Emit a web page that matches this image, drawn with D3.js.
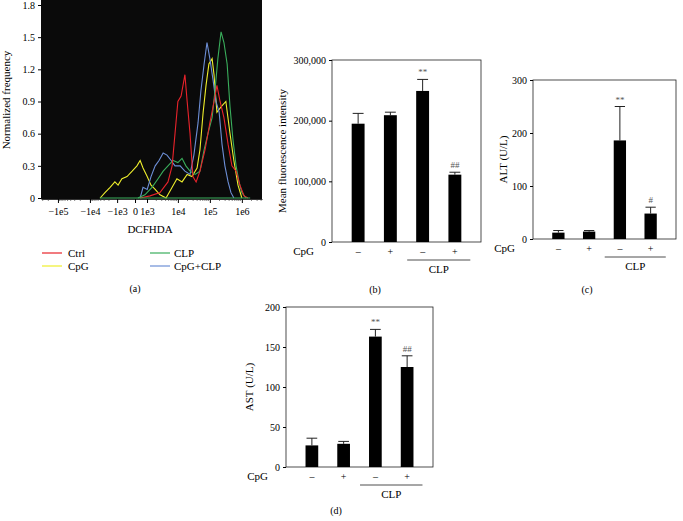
<!DOCTYPE html>
<html>
<head>
<meta charset="utf-8">
<script src="https://cdn.jsdelivr.net/npm/d3@7"></script>
<style>
  body { margin: 0; background: #fff; }
  svg { font-family: "Liberation Serif", "DejaVu Serif", serif; }
</style>
</head>
<body>
<svg id="fig" width="683" height="521"></svg>
<script>
// panel (a) histogram curves: x = position along the logicle axis (decade units), y = normalized frequency
const ctrlX = [0.16,0.47,0.78,1.03,1.16,1.25,1.34,1.44,1.5,1.56,1.63,1.72,1.81,1.91,2.03,2.19,2.34,2.47,2.56,2.66,2.78,2.91,3.03,3.16,3.28,3.41,3.53];
const ctrlY = [0,0.02,0.05,0.15,0.3,0.6,0.9,0.95,1.05,1.15,0.9,0.6,0.2,0.15,0.25,0.45,0.7,0.9,1.05,0.9,0.75,0.5,0.3,0.25,0.12,0.02,0];
const cpgX = [-1.09,-0.94,-0.78,-0.63,-0.53,-0.41,-0.25,-0.09,0.06,0.16,0.25,0.38,0.5,0.63,0.78,0.97,1.16,1.31,1.47,1.63,1.78,1.94,2.03,2.13,2.22,2.31,2.41,2.47,2.56,2.69,2.84,2.97,3.09,3.22,3.34];
const cpgY = [0,0.05,0.1,0.15,0.12,0.18,0.2,0.25,0.3,0.35,0.28,0.2,0.12,0.08,0.03,0,0.1,0.18,0.15,0.22,0.2,0.28,0.45,0.8,1.05,1.25,1.3,1.15,0.8,0.85,0.9,0.6,0.35,0.12,0];
const clpX = [0.09,0.31,0.53,0.72,0.88,1.03,1.19,1.34,1.47,1.59,1.72,1.88,2.03,2.16,2.28,2.41,2.5,2.59,2.69,2.78,2.88,2.97,3.06,3.16,3.25,3.34,3.47];
const clpY = [0,0.03,0.1,0.18,0.25,0.3,0.35,0.33,0.37,0.3,0.25,0.22,0.25,0.45,0.6,0.75,1.0,1.3,1.55,1.45,1.25,0.85,0.55,0.3,0.15,0.05,0];
const bothX = [0.16,0.25,0.38,0.5,0.63,0.75,0.88,1.0,1.13,1.25,1.41,1.56,1.72,1.84,1.97,2.06,2.16,2.25,2.34,2.44,2.53,2.63,2.72,2.81,2.91,3.0,3.09];
const bothY = [0,0.1,0.08,0.2,0.3,0.35,0.42,0.4,0.35,0.3,0.3,0.25,0.22,0.4,0.7,1.0,1.25,1.45,1.3,1.1,0.9,0.8,0.5,0.3,0.15,0.05,0];
const seriesNames = ['Ctrl', 'CpG', 'CLP', 'CpG+CLP'];
const seriesColors = ['#e8232b', '#eeee2c', '#3aae5c', '#6d8fd6'];
const xTickLabels = ['\u22121e5', '\u22121e4', '\u22121e3', '0', '1e3', '1e4', '1e5', '1e6'];
const xTickPos = [-2.41, -1.41, -0.56, 0, 0.375, 1.34, 2.34, 3.34];

// bar panels
const groups = ['1', '2', '3', '4'];
const cpgSigns = ['\u2013', '+', '\u2013', '+'];
const mfi = [195000, 209000, 249000, 111000];
const mfiErr = [17000, 5000, 19000, 4000];
const mfiMarks = ['', '', '**', '##'];
const alt = [12, 14, 186, 48];
const altErr = [4, 2, 64, 12];
const altMarks = ['', '', '**', '#'];
const ast = [27, 29, 163, 125];
const astErr = [9, 3, 9, 14];
const astMarks = ['', '', '**', '##'];

const svg = d3.select('#fig');

// ---- panel (a)
const a = { left: 41, right: 262, top: 0, bottom: 199 };
const xa = d3.scaleLinear().domain([-2.94, 3.97]).range([a.left, a.right]);
const ya = d3.scaleLinear().domain([0, 1.8]).range([198, 5]);

svg.append('rect')
  .attr('x', a.left).attr('y', a.top)
  .attr('width', a.right - a.left).attr('height', a.bottom - a.top)
  .attr('fill', '#0a0a0a');

const ga = svg.append('g');
ga.append('g')
  .attr('transform', `translate(${a.left},0)`)
  .call(d3.axisLeft(ya).tickValues([0, 0.3, 0.6, 0.9, 1.2, 1.5, 1.8]).tickFormat(d => d === 0 ? '0' : d3.format('.1f')(d)).tickSize(3))
  .call(g => g.select('.domain').remove())
  .call(g => g.selectAll('text').attr('font-size', 10).attr('font-family', 'Liberation Serif'));

// minor ticks on the logicle axis
const minor = [];
[[0.375, 1.34], [1.34, 2.34], [2.34, 3.34], [3.34, 4.34]].forEach(([u0, u1]) => {
  for (let k = 2; k <= 9; k++) minor.push(u0 + (u1 - u0) * Math.log10(k));
});
[[-1.41, -2.41], [-0.56, -1.41], [-2.41, -3.41]].forEach(([u0, u1]) => {
  for (let k = 2; k <= 9; k++) minor.push(u0 + (u1 - u0) * Math.log10(k));
});
ga.selectAll('.minor').data(minor.filter(u => u > -2.94 && u < 3.97)).join('line')
  .attr('x1', d => xa(d)).attr('x2', d => xa(d))
  .attr('y1', 199).attr('y2', 201).attr('stroke', '#333').attr('stroke-width', 0.6);

ga.append('g')
  .attr('transform', `translate(0,199)`)
  .call(d3.axisBottom(xa).tickValues(xTickPos).tickFormat((d, i) => xTickLabels[i]).tickSize(4).tickSizeOuter(0))
  .call(g => g.select('.domain').attr('stroke', '#333'))
  .call(g => g.selectAll('text').attr('font-size', 10).attr('font-family', 'Liberation Serif').attr('dy', '0.9em'));

ga.append('text').attr('x', 150).attr('y', 233).attr('text-anchor', 'middle')
  .attr('font-size', 11).text('DCFHDA');
ga.append('text').attr('transform', 'translate(10,100) rotate(-90)').attr('text-anchor', 'middle')
  .attr('font-size', 11).text('Normalized frequency');

const curves = [[ctrlX, ctrlY], [cpgX, cpgY], [clpX, clpY], [bothX, bothY]];
const line = d3.line().x(d => xa(d[0])).y(d => ya(d[1]));
// draw order: yellow, blue, green, red on top roughly like the reference
[1, 3, 2, 0].forEach(i => {
  const pts = curves[i][0].map((x, j) => [x, curves[i][1][j]]);
  ga.append('path').datum(pts).attr('d', line)
    .attr('fill', 'none').attr('stroke', seriesColors[i]).attr('stroke-width', 1.1);
});
// baseline over the zero line
ga.append('line').attr('x1', xa(-1.1)).attr('x2', xa(3.6)).attr('y1', ya(0)).attr('y2', ya(0))
  .attr('stroke', '#3aae5c').attr('stroke-width', 1);

// legend
const legPos = [[42, 253], [42, 266], [150, 253], [150, 266]];
seriesNames.forEach((n, i) => {
  const [lx, ly] = legPos[i];
  ga.append('line').attr('x1', lx).attr('x2', lx + 20).attr('y1', ly).attr('y2', ly)
    .attr('stroke', seriesColors[i]).attr('stroke-width', 1.2);
  ga.append('text').attr('x', lx + (i < 2 ? 26 : 24)).attr('y', ly + 4).attr('font-size', 11).text(n);
});
ga.append('text').attr('x', 135).attr('y', 292).attr('text-anchor', 'middle').attr('font-size', 10).text('(a)');

// ---- bar panels
function barPanel(box, vals, errs, marks, yMax, yStep, yLabel, caption) {
  const g = svg.append('g');
  const x = d3.scaleBand().domain(groups).range([box.left + 10, box.right - 10]).paddingInner(0.6).paddingOuter(0.3);
  const y = d3.scaleLinear().domain([0, yMax]).range([box.bottom, box.top]);
  const bw = x.bandwidth();

  g.append('rect').attr('x', box.left).attr('y', box.top)
    .attr('width', box.right - box.left).attr('height', box.bottom - box.top)
    .attr('fill', 'none').attr('stroke', '#222').attr('stroke-width', 0.8);
  g.append('g').attr('transform', `translate(${box.left},0)`)
    .call(d3.axisLeft(y).ticks(yMax / yStep).tickSize(3).tickSizeOuter(0))
    .call(s => s.select('.domain').remove())
    .call(s => s.selectAll('text').attr('font-size', 10).attr('font-family', 'Liberation Serif'));

  g.selectAll('.err').data(vals).join('path')
    .attr('d', (d, i) => {
      const cx = x(groups[i]) + bw / 2, top = y(d + errs[i]);
      return `M${cx},${y(d)}V${top}M${cx - bw / 2 + 1},${top}H${cx + bw / 2 - 1}`;
    })
    .attr('stroke', '#222').attr('stroke-width', 1).attr('fill', 'none');
  g.selectAll('.bar').data(vals).join('rect')
    .attr('x', (d, i) => x(groups[i])).attr('width', bw)
    .attr('y', d => y(d)).attr('height', d => y(0) - y(d)).attr('fill', '#000');
  g.selectAll('.mark').data(marks).join('text')
    .attr('x', (d, i) => x(groups[i]) + bw / 2)
    .attr('y', (d, i) => y(vals[i] + errs[i]) - 4)
    .attr('text-anchor', 'middle').attr('font-size', 9).attr('fill', '#555').text(d => d);

  const rowY = box.bottom + 13;
  g.append('text').attr('x', box.left - 18).attr('y', rowY).attr('text-anchor', 'end').attr('font-size', 11).text('CpG');
  g.selectAll('.sign').data(cpgSigns).join('text')
    .attr('x', (d, i) => x(groups[i]) + bw / 2).attr('y', rowY)
    .attr('text-anchor', 'middle').attr('font-size', 10).text(d => d);
  const l0 = x(groups[2]) - 9, l1 = x(groups[3]) + bw + 9;
  g.append('line').attr('x1', l0).attr('x2', l1).attr('y1', rowY + 5).attr('y2', rowY + 5)
    .attr('stroke', '#222').attr('stroke-width', 0.8);
  g.append('text').attr('x', (l0 + l1) / 2).attr('y', rowY + 18).attr('text-anchor', 'middle').attr('font-size', 11).text('CLP');

  g.append('text').attr('transform', `translate(${box.yLabelX},${(box.top + box.bottom) / 2}) rotate(-90)`)
    .attr('text-anchor', 'middle').attr('font-size', 11).text(yLabel);
  g.append('text').attr('x', box.capX).attr('y', box.capY).attr('text-anchor', 'middle').attr('font-size', 10).text(caption);
}

barPanel({ left: 332, right: 481, top: 60, bottom: 242, yLabelX: 286, capX: 375, capY: 293 },
  mfi, mfiErr, mfiMarks, 300000, 100000, 'Mean fluorescence intensity', '(b)');
barPanel({ left: 533, right: 676, top: 80, bottom: 239, yLabelX: 507, capX: 587, capY: 293 },
  alt, altErr, altMarks, 300, 100, 'ALT (U/L)', '(c)');
barPanel({ left: 286, right: 433, top: 307, bottom: 467, yLabelX: 253, capX: 336, capY: 514 },
  ast, astErr, astMarks, 200, 50, 'AST (U/L)', '(d)');
</script>
</body>
</html>
